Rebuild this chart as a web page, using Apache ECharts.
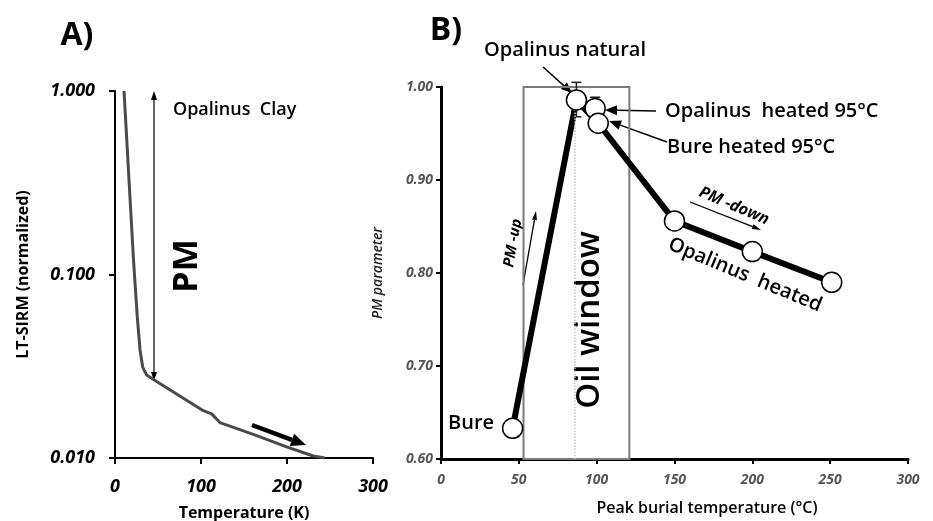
<!DOCTYPE html>
<html><head><meta charset="utf-8">
<script src="https://cdn.jsdelivr.net/npm/echarts@6/dist/echarts.min.js"></script>
<style>html,body{margin:0;padding:0;background:#fff}#c{width:933px;height:521px}</style>
</head><body><div id="c"></div>
<script>
// ---- Panel A: LT-SIRM warming curve ----
const tempK = [10.5, 21.5, 25.9, 29.1, 32.2, 36.8, 48.4, 102.7, 112.4, 122, 160.8, 199.6, 230.6, 244];
const sirmNorm = [1.0, 0.12, 0.0587, 0.0388, 0.0313, 0.0283, 0.0261, 0.0181, 0.0174, 0.0156, 0.01346, 0.0115, 0.01025, 0.0100];
// ---- Panel B: PM parameter vs peak burial temperature ----
const samples = ['Bure', 'Opalinus natural', 'Opalinus heated 95°C', 'Bure heated 95°C', 'Opalinus heated 150', 'Opalinus heated 200', 'Opalinus heated 250'];
const burialTemp = [46, 87, 99, 101, 150, 200, 251];
const pmValue = [0.633, 0.986, 0.977, 0.961, 0.856, 0.823, 0.790];
const pathOrder = [0, 1, 3, 4, 5, 6];
const errTemp = [87, 99];
const errLow = [0.968, 0.966];
const errHigh = [1.005, 0.989];
const oilWindow = [53, 121];
const oilWindowMid = 86;

const FONT = "'Open Sans', 'DejaVu Sans', sans-serif";
const chart = echarts.init(document.getElementById('c'), null, {renderer: 'canvas'});

function arrow(x1, y1, x2, y2, w, hl, hw, color, both) {
  color = color || '#000';
  const ang = Math.atan2(y2 - y1, x2 - x1);
  const c = Math.cos(ang), s = Math.sin(ang);
  const bx = x2 - hl * c, by = y2 - hl * s;
  const px = -s * hw / 2, py = c * hw / 2;
  let sx = x1, sy = y1;
  const out = [];
  if (both) {
    sx = x1 + hl * c; sy = y1 + hl * s;
    out.push({type: 'polygon', shape: {points: [[x1, y1], [sx + px, sy + py], [sx - px, sy - py]]}, style: {fill: color}});
  }
  out.push({type: 'line', shape: {x1: sx, y1: sy, x2: bx, y2: by}, style: {stroke: color, lineWidth: w}});
  out.push({type: 'polygon', shape: {points: [[x2, y2], [bx + px, by + py], [bx - px, by - py]]}, style: {fill: color}});
  return out;
}
function txt(x, y, text, font, rotDeg, align) {
  return {type: 'text', x: x, y: y, rotation: (rotDeg || 0) * Math.PI / 180,
    style: {text: text, font: font, fill: '#000', align: align || 'center', verticalAlign: 'middle'}};
}

const graphics = [].concat(
  [txt(77, 36, 'A)', 'bold 32px ' + FONT), txt(446, 31, 'B)', 'bold 32px ' + FONT)],
  [txt(173, 110, 'Opalinus  Clay', '600 18px ' + FONT, 0, 'left')],
  [txt(187, 266, 'PM', 'bold 34px ' + FONT, 90)],
  arrow(154, 91, 154, 381, 1.2, 9, 6, '#000', true),
  arrow(252, 425, 306, 445, 4.5, 15, 13),
  [txt(484, 50, 'Opalinus natural', '600 20px ' + FONT, 0, 'left')],
  arrow(543, 67, 572, 93, 1.5, 11, 9),
  [txt(665, 111, 'Opalinus  heated 95°C', '600 20px ' + FONT, 0, 'left')],
  arrow(656, 111, 605, 110, 1.5, 12, 10),
  [txt(667, 147, 'Bure heated 95°C', '600 20px ' + FONT, 0, 'left')],
  arrow(667, 142, 609, 121, 1.5, 12, 10),
  [txt(448, 423, 'Bure', '600 20px ' + FONT, 0, 'left')],
  [txt(590, 320, 'Oil window', '600 33px ' + FONT, 90)],
  [txt(745, 275, 'Opalinus  heated', '600 20px ' + FONT, -22.5)],
  [txt(734, 206, 'PM -down', 'italic bold 16px ' + FONT, -23)],
  arrow(690, 202, 761, 230, 1.3, 9, 5),
  [txt(513, 243, 'PM -up', 'italic bold 15px ' + FONT, 80)],
  arrow(523, 285, 536, 211, 1.3, 9, 5)
);

const option = {
  animation: false,
  backgroundColor: '#fff',
  grid: [
    {left: 115, top: 91, width: 258, height: 367, containLabel: false, outerBoundsMode: 'none'},
    {left: 441, top: 87, width: 467, height: 372, containLabel: false, outerBoundsMode: 'none'}
  ],
  xAxis: [
    {gridIndex: 0, type: 'value', min: 0, max: 300, interval: 100,
      axisLine: {show: true, onZero: false, lineStyle: {color: '#000', width: 2}},
      axisTick: {show: true, length: 6, lineStyle: {color: '#000', width: 2}},
      axisLabel: {fontFamily: FONT, fontStyle: 'italic', fontWeight: 'bold', fontSize: 18, color: '#000', margin: 20},
      splitLine: {show: false},
      name: 'Temperature (K)', nameLocation: 'middle', nameGap: 47,
      nameTextStyle: {fontFamily: FONT, fontWeight: 'bold', fontSize: 16, color: '#000'}},
    {gridIndex: 1, type: 'value', min: 0, max: 300, interval: 50,
      axisLine: {show: true, onZero: false, lineStyle: {color: '#000', width: 3}},
      axisTick: {show: true, length: 5, lineStyle: {color: '#000', width: 2}},
      axisLabel: {fontFamily: FONT, fontStyle: 'italic', fontWeight: 'bold', fontSize: 14, color: '#555', margin: 14},
      splitLine: {show: false},
      name: 'Peak burial temperature (°C)', nameLocation: 'middle', nameGap: 41,
      nameTextStyle: {fontFamily: FONT, fontWeight: 600, fontSize: 16, color: '#000', padding: [0, 0, 0, 65]}}
  ],
  yAxis: [
    {gridIndex: 0, type: 'log', logBase: 10, min: 0.01, max: 1,
      axisLine: {show: true, lineStyle: {color: '#000', width: 2}},
      axisTick: {show: true, length: 6, lineStyle: {color: '#000', width: 2}},
      axisLabel: {fontFamily: FONT, fontStyle: 'italic', fontWeight: 'bold', fontSize: 18, color: '#000', margin: 20,
        formatter: v => Number(v).toFixed(3)},
      splitLine: {show: false}, minorTick: {show: false},
      name: 'LT-SIRM (normalized)', nameLocation: 'middle', nameGap: 84,
      nameTextStyle: {fontFamily: FONT, fontWeight: 'bold', fontSize: 16, color: '#000'}},
    {gridIndex: 1, type: 'value', min: 0.6, max: 1.0, interval: 0.1,
      axisLine: {show: true, lineStyle: {color: '#000', width: 3}},
      axisTick: {show: true, length: 5, lineStyle: {color: '#000', width: 2}},
      axisLabel: {fontFamily: FONT, fontStyle: 'italic', fontWeight: 'bold', fontSize: 14, color: '#555', margin: 8,
        formatter: v => Number(v).toFixed(2)},
      splitLine: {show: false},
      name: 'PM parameter', nameLocation: 'middle', nameGap: 56,
      nameTextStyle: {fontFamily: FONT, fontStyle: 'italic', fontWeight: 600, fontSize: 14, color: '#222'}}
  ],
  series: [
    {type: 'line', xAxisIndex: 0, yAxisIndex: 0, showSymbol: false, symbol: 'none',
      data: tempK.map((t, i) => [t, sirmNorm[i]]),
      lineStyle: {color: '#4a4a4a', width: 3}, z: 2},
    {type: 'line', xAxisIndex: 1, yAxisIndex: 1, showSymbol: false, symbol: 'none',
      data: pathOrder.map(i => [burialTemp[i], pmValue[i]]),
      lineStyle: {color: '#000', width: 6}, z: 3,
      markArea: {silent: true, itemStyle: {color: 'rgba(0,0,0,0)', borderColor: '#7a7a7a', borderWidth: 2},
        data: [[{coord: [oilWindow[0], 0.6]}, {coord: [oilWindow[1], 1.0]}]], z: 1},
      markLine: {silent: true, symbol: 'none', label: {show: false},
        lineStyle: {color: '#c4c4c4', type: 'dotted', width: 1.5},
        data: [[{coord: [oilWindowMid, 0.6]}, {coord: [oilWindowMid, 1.0]}]]}},
    {type: 'custom', xAxisIndex: 1, yAxisIndex: 1, z: 4,
      data: errTemp.map((t, i) => [t, errLow[i], errHigh[i]]),
      renderItem: function (params, api) {
        const lo = api.coord([api.value(0), api.value(1)]);
        const hi = api.coord([api.value(0), api.value(2)]);
        const hw = 5;
        const st = {stroke: '#222', lineWidth: 1.5};
        return {type: 'group', children: [
          {type: 'line', shape: {x1: lo[0], y1: lo[1], x2: hi[0], y2: hi[1]}, style: st},
          {type: 'line', shape: {x1: lo[0] - hw, y1: lo[1], x2: lo[0] + hw, y2: lo[1]}, style: st},
          {type: 'line', shape: {x1: hi[0] - hw, y1: hi[1], x2: hi[0] + hw, y2: hi[1]}, style: st}
        ]};
      }},
    {type: 'scatter', xAxisIndex: 1, yAxisIndex: 1, symbol: 'circle', symbolSize: 20, z: 5,
      data: burialTemp.map((t, i) => ({name: samples[i], value: [t, pmValue[i]]})),
      itemStyle: {color: '#fff', borderColor: '#000', borderWidth: 1.5, opacity: 1}}
  ],
  graphic: graphics
};
chart.setOption(option);
</script>
</body></html>
